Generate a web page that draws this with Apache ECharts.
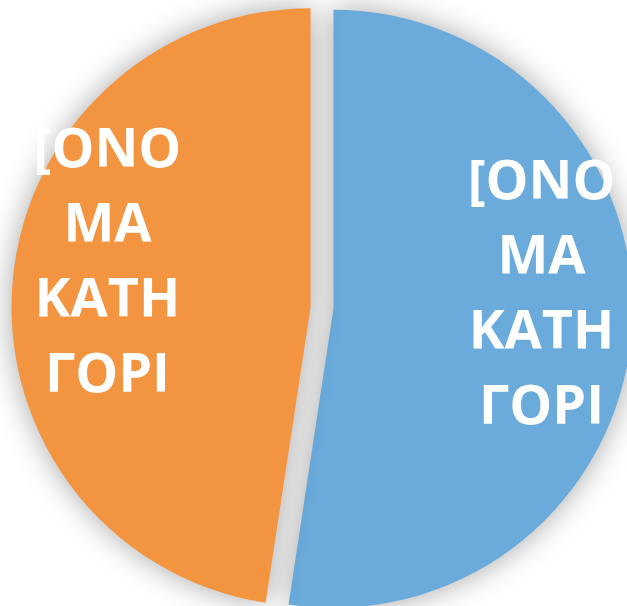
<!DOCTYPE html>
<html>
<head>
<meta charset="utf-8">
<script src="https://cdn.jsdelivr.net/npm/echarts@6/dist/echarts.min.js"></script>
<style>
    html, body { margin: 0; padding: 0; background: #fff; }
    #chart { width: 627px; height: 606px; }
</style>
</head>
<body>
<div id="chart"></div>
<script>
// category names (Greek placeholder "[category name]"), as shown truncated in the slices
var categories = ['[ΟΝΟΜΑ ΚΑΤΗΓΟΡΙΑΣ]', '[ΟΝΟΜΑ ΚΑΤΗΓΟΡΙΑΣ]'];
var labelLines = [
    ['[ΟΝΟ', 'ΜΑ', 'ΚΑΤΗ', 'ΓΟΡΙ'],
    ['[ΟΝΟ', 'ΜΑ', 'ΚΑΤΗ', 'ΓΟΡΙ']
];
var values = [52.4, 47.6];
var colors = ['#6aabdc', '#f39441'];

var chart = echarts.init(document.getElementById('chart'));

var data = values.map(function (v, i) {
    return {
        name: categories[i],
        value: v,
        selected: true,
        itemStyle: { color: colors[i] }
    };
});

// nudge labels toward where the original sits them
var labelShift = [[56, -24], [-51, -32]];

chart.setOption({
    animation: false,
    series: [{
        type: 'pie',
        center: [322, 308],
        radius: 299,
        startAngle: 90,
        clockwise: true,
        selectedMode: 'multiple',
        selectedOffset: 11.5,
        data: data,
        itemStyle: {
            borderWidth: 0,
            shadowBlur: 30,
            shadowColor: 'rgba(0,0,0,0.35)'
        },
        emphasis: { disabled: true },
        label: {
            show: true,
            position: 'inside',
            color: '#fff',
            fontFamily: '"Open Sans", sans-serif',
            fontWeight: 'bold',
            fontSize: 54,
            lineHeight: 75,
            align: 'center',
            formatter: function (p) {
                return labelLines[p.dataIndex].join('\n');
            }
        },
        labelLine: { show: false },
        labelLayout: function (p) {
            return { dx: labelShift[p.dataIndex][0], dy: labelShift[p.dataIndex][1] };
        }
    }]
});
</script>
</body>
</html>
